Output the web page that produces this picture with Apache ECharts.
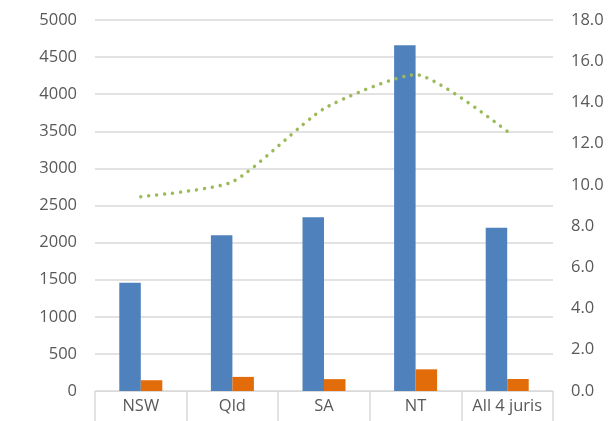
<!DOCTYPE html>
<html><head><meta charset="utf-8">
<script src="https://cdn.jsdelivr.net/npm/echarts@6/dist/echarts.min.js"></script>
<style>html,body{margin:0;padding:0;background:#fff}#c{width:616px;height:421px}</style>
</head><body><div id="c"></div>
<script>
const categories = ['NSW', 'Qld', 'SA', 'NT', 'All 4 juris'];
const blueValues = [1460, 2100, 2340, 4660, 2200];
const orangeValues = [145, 190, 160, 292, 162];
const lineValues = [9.43, 10.15, 13.7, 15.35, 12.6];
const leftTicks = {min: 0, max: 5000, interval: 500};
const rightTicks = {min: 0, max: 18, interval: 2};

const font = 'Open Sans';
const chart = echarts.init(document.getElementById('c'), null, {renderer: 'canvas'});
chart.setOption({
  animation: false,
  grid: {left: 95, right: 63, top: 20, bottom: 30, containLabel: false},
  xAxis: {
    type: 'category', data: categories,
    axisLine: {lineStyle: {color: '#d9d9d9', width: 1}},
    axisTick: {show: true, interval: 0, length: 30, lineStyle: {color: '#d9d9d9', width: 1.5}},
    axisLabel: {interval: 0, color: '#595959', fontFamily: font, fontSize: 16.5, margin: 7}
  },
  yAxis: [{
    type: 'value', min: leftTicks.min, max: leftTicks.max, interval: leftTicks.interval,
    axisLine: {show: false}, axisTick: {show: false},
    splitLine: {lineStyle: {color: '#d9d9d9', width: 1.5}},
    axisLabel: {color: '#595959', fontFamily: font, fontSize: 16.5, margin: 18,
      formatter: v => String(v)}
  }, {
    type: 'value', min: rightTicks.min, max: rightTicks.max, interval: rightTicks.interval,
    axisLine: {show: false}, axisTick: {show: false}, splitLine: {show: false},
    axisLabel: {color: '#595959', fontFamily: font, fontSize: 16.5, margin: 18,
      formatter: v => v.toFixed(1)}
  }],
  series: [{
    type: 'bar', data: blueValues, barWidth: 21.5, barGap: '0%',
    itemStyle: {color: '#4f81bd'}
  }, {
    type: 'bar', data: orangeValues, barWidth: 21.5, barGap: '0%',
    itemStyle: {color: '#e36c0a'}
  }, {
    type: 'line', yAxisIndex: 1, data: lineValues, smooth: 0.2, symbol: 'none',
    lineStyle: {color: '#9bbb59', width: 3.5, type: [0.01, 8], cap: 'round'}
  }]
});
</script></body></html>
